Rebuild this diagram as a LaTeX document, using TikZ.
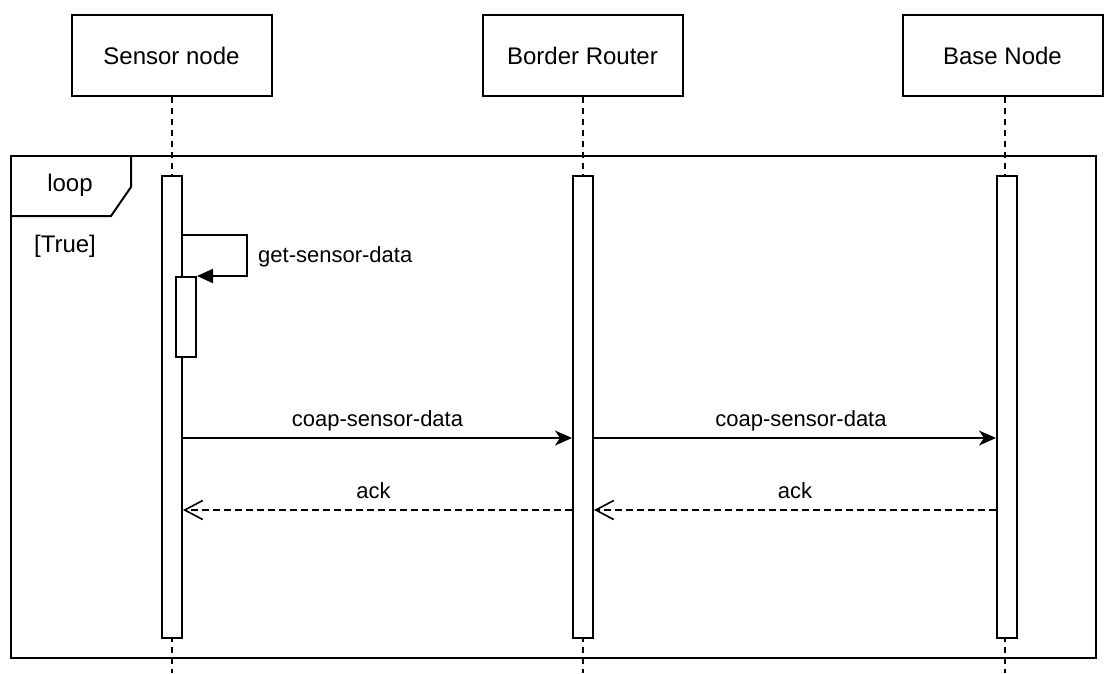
\documentclass[tikz,border=0pt]{standalone}
\usepackage{fontspec}
\setmainfont{Liberation Sans}
\usepackage{xcolor}
\usepackage{tikz}
\usetikzlibrary{arrows.meta}
\definecolor{SQLine}{HTML}{000000}
\tikzset{
  sqfont/.style={font=\fontsize{22}{26}\selectfont},
  bigfont/.style={font=\fontsize{24}{28}\selectfont},
  actor/.style={draw=SQLine,line width=2pt,fill=white,minimum width=200pt,minimum height=81pt,inner sep=0pt,bigfont},
  lifeline/.style={draw=SQLine,line width=2pt,dash pattern=on 6pt off 5pt},
  activation/.style={draw=SQLine,line width=2pt,fill=white,minimum width=20pt,inner sep=0pt},
  msgcall/.style={draw=SQLine,line width=2pt,-{Stealth[length=17pt,width=15pt,inset=5pt]}},
  msgself/.style={draw=SQLine,line width=2pt,-{Triangle[length=16pt,width=14pt]}},
  msgreturn/.style={draw=SQLine,line width=1.8pt,dash pattern=on 7pt off 4pt,-{Straight Barb[length=18pt,width=19pt,line width=1.6pt]}},
  msglabel/.style={sqfont,above=4pt,inner sep=2pt,text depth=5pt},
  txt/.style={bigfont,inner sep=0pt}
}

\begin{document}
\begin{tikzpicture}[x=1pt,y=-1pt]
\path[use as bounding box] (0,0) rectangle (1104,673);
\node[actor] (sensor) at (171.5,55.5) {Sensor node};
\node[actor] (router) at (582.5,55.5) {Border Router};
\node[actor] (base) at (1002.5,55.5) {Base Node};
\coordinate (floor) at (0,673);
\draw[lifeline] (sensor.south) -- (sensor.south |- floor);
\draw[lifeline] (router.south) -- (router.south |- floor);
\draw[lifeline] ([xshift=2pt]base.south) -- ([xshift=2pt]base.south |- floor);
\draw[SQLine,line width=2pt] (11,156) rectangle (1096,658);
\draw[SQLine,line width=2pt] (11,216) -- (111,216) -- (131,187) -- (131,156);
\node[txt] (looplbl) at (70,185) {loop};
\node[txt] (guard) at (65,246) {[True]};
\node[activation,minimum height=462pt] (sbar) at (172,407) {};
\node[activation,minimum height=462pt] (rbar) at (583,407) {};
\node[activation,minimum height=462pt] (bbar) at (1007,407) {};
\node[activation,minimum height=80pt] (act) at (186,317) {};
\coordinate (s1) at (0,235);
\coordinate (m1) at (0,438);
\coordinate (m2) at (0,510);
\draw[msgself] (sbar.east |- s1) -- ++(64,0) |- (act.north east);
\node[sqfont,inner sep=0pt,anchor=west] (selflbl) at (258,257) {get-sensor-data};
\draw[msgcall] (sbar.east |- m1) -- node[msglabel] {coap-sensor-data} (rbar.west |- m1);
\draw[msgcall] (rbar.east |- m1) -- node[msglabel,xshift=6pt] {coap-sensor-data} (bbar.west |- m1);
\draw[msgreturn] (rbar.west |- m2) -- node[msglabel,xshift=-4pt] {ack} (sbar.east |- m2);
\draw[msgreturn] (bbar.west |- m2) -- node[msglabel] {ack} (rbar.east |- m2);
\end{tikzpicture}
\end{document}
